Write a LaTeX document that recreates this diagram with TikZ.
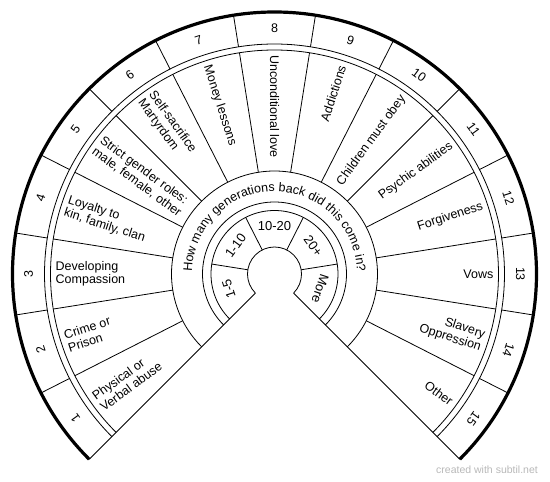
\documentclass[tikz,border=0pt]{standalone}
\usepackage{fontspec}
\setmainfont{Liberation Sans}
\usetikzlibrary{decorations.text}
\begin{document}
\begin{tikzpicture}[x=1pt,y=1pt,
  thinline/.style={line width=0.8pt, black},
  thickline/.style={line width=3.2pt, black},
  lbl/.style={inner sep=0pt, font=\fontsize{12.5}{13.5}\selectfont},
  lblL/.style={lbl, align=left, anchor=west},
  lblR/.style={lbl, align=right, anchor=east},
  num/.style={inner sep=0pt, font=\fontsize{12.5}{14}\selectfont},
  gen/.style={inner sep=0pt, font=\fontsize{13}{14}\selectfont},
  wmark/.style={inner sep=0pt, font=\fontsize{10.5}{12}\selectfont, text=black!28}]
\useasboundingbox (-274.5,-208) rectangle (275.5,274);
\def\Rh{27}\def\Rg{63.5}\def\Rqi{72}\def\Rqo{103}\def\Rli{224}\def\Rno{230}\def\Ro{262}
% straight edges and inner hole
\draw[thinline] (225:\Rh) -- (225:\Ro);
\draw[thinline] (-45:\Rh) -- (-45:\Ro);
\foreach \r in {\Rh,\Rg,\Rqi,\Rqo,\Rli,\Rno}
  \draw[thinline] (225:\r) arc[start angle=225, end angle=-45, radius=\r];
\draw[thickline] (225:\Ro) arc[start angle=225, end angle=-45, radius=\Ro];
% sector dividers
\foreach \i in {1,...,14}{
  \draw[thinline] ({225-18*\i}:\Rqo) -- ({225-18*\i}:\Rli);
  \draw[thinline] ({225-18*\i}:\Rno) -- ({225-18*\i}:\Ro);
}
\foreach \a in {171,117,63,9}
  \draw[thinline] (\a:\Rh) -- (\a:\Rg);
% numbers
\foreach \k in {1,...,15}
  \node[num, rotate={144-18*\k}] (n\k) at ({234-18*\k}:246) {\k};
% labels left half
\node[lblL, rotate=36]  (l1) at (216:219) {Physical or\\Verbal abuse};
\node[lblL, rotate=18]  (l2) at (198:219) {Crime or\\Prison};
\node[lblL, rotate=0]   (l3) at (180:219) {Developing\\Compassion};
\node[lblL, rotate=-18] (l4) at (162:219) {Loyalty to\\kin, family, clan};
\node[lblL, rotate=-36] (l5) at (144:219) {Strict gender roles:\\male, female, other};
\node[lblL, rotate=-54] (l6) at (126:219) {Self-sacrifice\\Martyrdom};
\node[lblL, rotate=-72] (l7) at (108:219) {Money lessons};
\node[lblL, rotate=-90] (l8) at (90:219)  {Unconditional love};
% labels right half
\node[lblR, rotate=72]  (l9)  at (72:219)  {Addictions};
\node[lblR, rotate=54]  (l10) at (54:219)  {Children must obey};
\node[lblR, rotate=36]  (l11) at (36:219)  {Psychic abilities};
\node[lblR, rotate=18]  (l12) at (18:219)  {Forgiveness};
\node[lblR, rotate=0]   (l13) at (0:219)   {Vows};
\node[lblR, rotate=-18] (l14) at (-18:219) {Slavery\\Oppression};
\node[lblR, rotate=-36] (l15) at (-36:219) {Other};
% question along arc
\path[decorate, decoration={text along path, text align=center,
  text={|\fontsize{12.5}{14}\selectfont|How many generations back did this come in?}}]
  (225:82.5) arc[start angle=225, end angle=-45, radius=82.5];
% generation labels
\node[gen, rotate=108]  (g1) at (198:48) {1-5};
\node[gen, rotate=54]   (g2) at (144:48) {1-10};
\node[gen, rotate=0]    (g3) at (90:48)  {10-20};
\node[gen, rotate=-54]  (g4) at (36:48)  {20+};
\node[gen, rotate=-108] (g5) at (-18:48) {More};
% watermark
\node[wmark, anchor=east] (wm) at (263.5,-196) {created with subtil.net};
\end{tikzpicture}
\end{document}
